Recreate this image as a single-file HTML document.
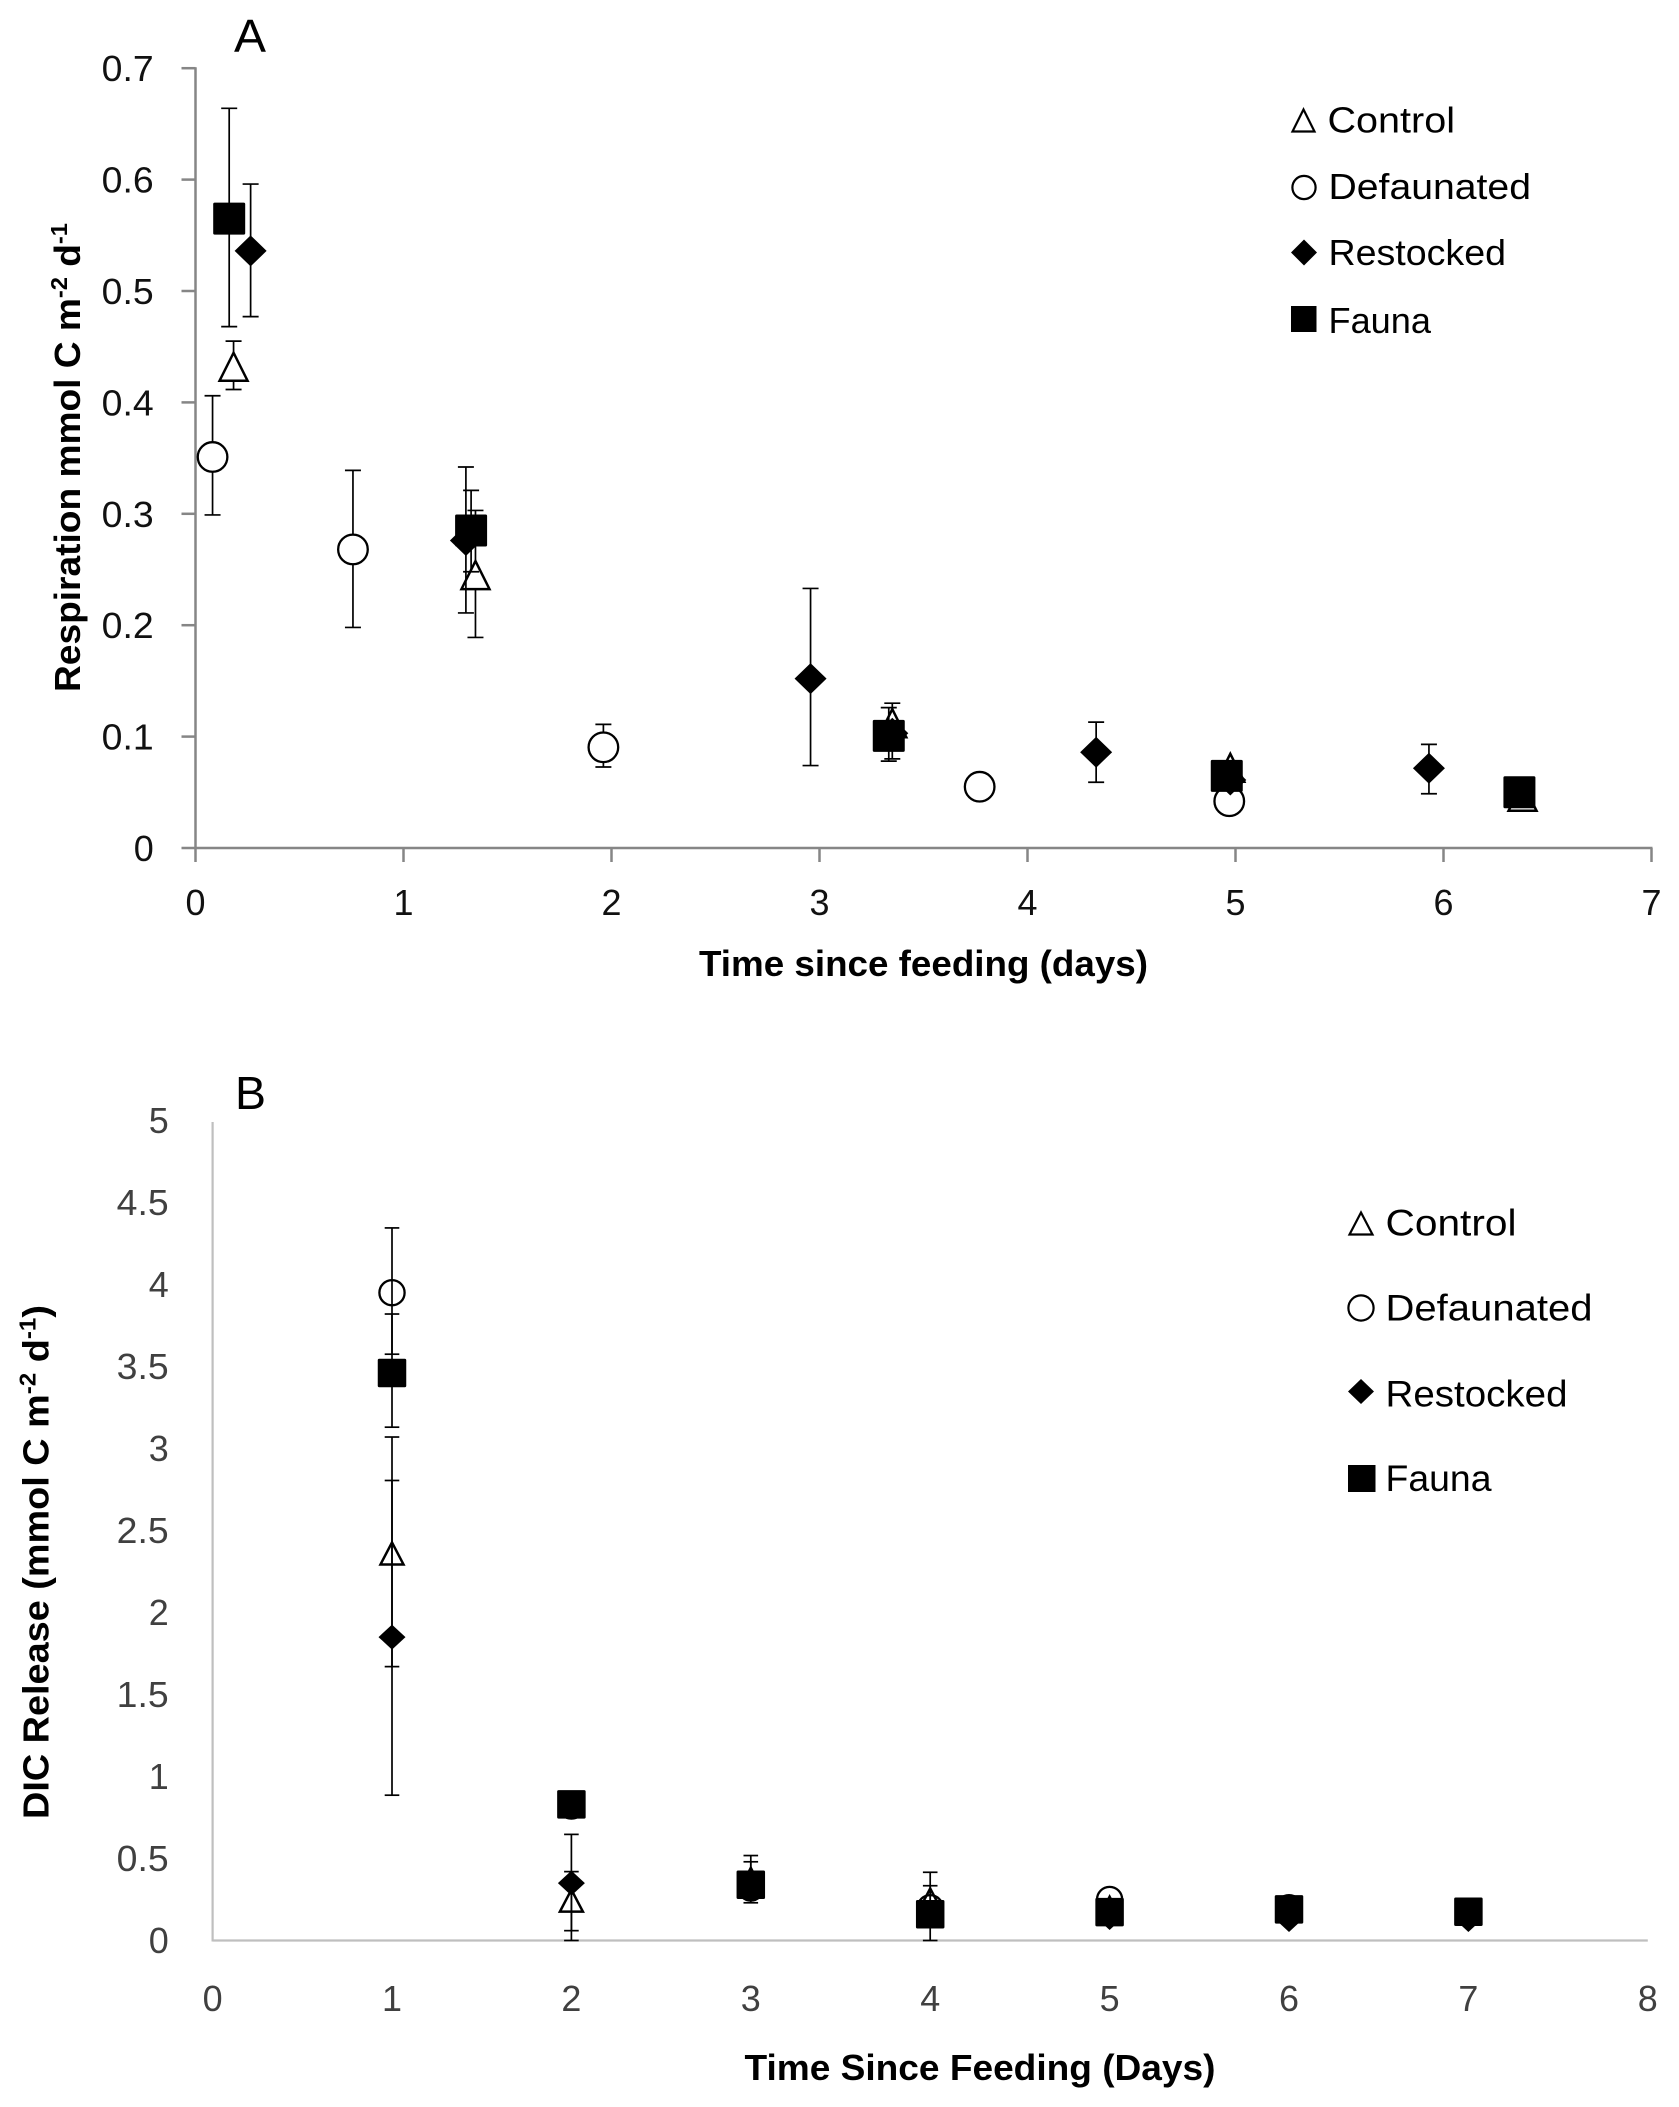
<!DOCTYPE html>
<html lang="en">
<head>
<meta charset="utf-8">
<title>Respiration and DIC release since feeding</title>
<style>
html,body{margin:0;padding:0;background:#fff;}
svg{display:block;}
text{font-family:"Liberation Sans",sans-serif;}
</style>
</head>
<body>
<svg id="figure" xmlns="http://www.w3.org/2000/svg" width="1679" height="2107" viewBox="0 0 1679 2107">
  <rect width="1679" height="2107" fill="#fff"/>

  <g id="panelA">
    <text x="234" y="52" font-size="46" textLength="32" lengthAdjust="spacingAndGlyphs" fill="#000">A</text>
    <g id="axesA"></g>
    <g id="marksA"></g>
    <text x="699" y="976" font-size="36" font-weight="bold" textLength="449" lengthAdjust="spacingAndGlyphs" fill="#000">Time since feeding (days)</text>
    <text transform="translate(80 692) rotate(-90)" font-size="36" font-weight="bold" textLength="469" lengthAdjust="spacingAndGlyphs" fill="#000">Respiration mmol C m<tspan font-size="23" dy="-13">-2</tspan><tspan dy="13"> d</tspan><tspan font-size="23" dy="-13">-1</tspan></text>
    <g>
      <g>
        <polygon points="1303.5,109.5 1292.5,131.5 1314.5,131.5" fill="#fff" stroke="#000" stroke-width="2.2"/>
        <text x="1327.5" y="132.5" font-size="36" textLength="127.5" lengthAdjust="spacingAndGlyphs" fill="#000">Control</text>
      </g>
      <g>
        <circle cx="1304" cy="187.5" r="11.6" fill="#fff" stroke="#000" stroke-width="2.2"/>
        <text x="1328.5" y="199" font-size="36" textLength="202.5" lengthAdjust="spacingAndGlyphs" fill="#000">Defaunated</text>
      </g>
      <g>
        <polygon points="1304,239.5 1317,252.5 1304,265.5 1291,252.5" fill="#000"/>
        <text x="1328.5" y="265" font-size="36" textLength="177.5" lengthAdjust="spacingAndGlyphs" fill="#000">Restocked</text>
      </g>
      <g>
        <rect x="1291" y="306" width="25.5" height="26" fill="#000"/>
        <text x="1328.5" y="333" font-size="36" textLength="102.5" lengthAdjust="spacingAndGlyphs" fill="#000">Fauna</text>
      </g>
    </g>
  </g>

  <g id="panelB">
    <text x="235" y="1109" font-size="46" textLength="31" lengthAdjust="spacingAndGlyphs" fill="#000">B</text>
    <g id="axesB"></g>
    <g id="marksB"></g>
    <text x="744.5" y="2080" font-size="36" font-weight="bold" textLength="471" lengthAdjust="spacingAndGlyphs" fill="#000">Time Since Feeding (Days)</text>
    <text transform="translate(48.5 1819) rotate(-90)" font-size="36" font-weight="bold" textLength="514" lengthAdjust="spacingAndGlyphs" fill="#000">DIC Release (mmol C m<tspan font-size="23" dy="-13">-2</tspan><tspan dy="13"> d</tspan><tspan font-size="23" dy="-13">-1</tspan><tspan dy="13">)</tspan></text>
    <g>
      <g>
        <polygon points="1361,1212.5 1349.5,1234.5 1372.5,1234.5" fill="#fff" stroke="#000" stroke-width="2.2"/>
        <text x="1385.5" y="1235.5" font-size="37" textLength="131" lengthAdjust="spacingAndGlyphs" fill="#000">Control</text>
      </g>
      <g>
        <circle cx="1361" cy="1308" r="12.6" fill="#fff" stroke="#000" stroke-width="2.2"/>
        <text x="1385.5" y="1320.5" font-size="37" textLength="207" lengthAdjust="spacingAndGlyphs" fill="#000">Defaunated</text>
      </g>
      <g>
        <polygon points="1361,1379 1374,1391.5 1361,1404 1348,1391.5" fill="#000"/>
        <text x="1385.5" y="1406.5" font-size="37" textLength="182" lengthAdjust="spacingAndGlyphs" fill="#000">Restocked</text>
      </g>
      <g>
        <rect x="1348" y="1465" width="27.5" height="27" fill="#000"/>
        <text x="1385.5" y="1491" font-size="37" textLength="106" lengthAdjust="spacingAndGlyphs" fill="#000">Fauna</text>
      </g>
    </g>
  </g>
</svg>

<script>
/* Panel A tick labels */
const aXTicks = ["0","1","2","3","4","5","6","7"];
const aYTicks = ["0","0.1","0.2","0.3","0.4","0.5","0.6","0.7"];

/* Panel A: Control */
const aControlX = [0.183,1.346,3.35,4.975,6.38];
const aControlY = [0.432,0.245,0.112,0.072,0.046];
const aControlHigh = [0.455,0.303,0.13,null,null];
const aControlLow = [0.4116,0.189,0.08,null,null];

/* Panel A: Defaunated */
const aDefaunatedX = [0.082,0.757,1.961,3.77,4.97];
const aDefaunatedY = [0.351,0.268,0.0904,0.055,0.042];
const aDefaunatedHigh = [0.406,0.339,0.111,null,null];
const aDefaunatedLow = [0.299,0.198,0.0727,null,null];

/* Panel A: Restocked */
const aRestockedX = [0.265,1.30,2.957,3.35,4.33,4.975,5.93];
const aRestockedY = [0.536,0.276,0.152,0.103,0.086,0.061,0.0716];
const aRestockedHigh = [0.596,0.342,0.233,null,0.113,null,0.093];
const aRestockedLow = [0.477,0.211,0.074,null,0.059,null,0.0487];

/* Panel A: Fauna */
const aFaunaX = [0.162,1.325,3.333,4.958,6.365];
const aFaunaY = [0.565,0.285,0.1007,0.0647,0.05];
const aFaunaHigh = [0.664,0.321,0.126,null,null];
const aFaunaLow = [0.468,0.248,0.078,null,null];

/* Panel B tick labels */
const bXTicks = ["0","1","2","3","4","5","6","7","8"];
const bYTicks = ["0","0.5","1","1.5","2","2.5","3","3.5","4","4.5","5"];

/* Panel B: shared sampling days */
const bDays = [1,2,3,4,5,6,7];

/* Panel B: Control */
const bControlY = [2.36,0.243,0.376,0.25,0.2,0.19,0.17];
const bControlHigh = [3.07,0.42,0.48,0.416,null,null,null];
const bControlLow = [1.67,0,0.27,0.08,null,null,null];

/* Panel B: Defaunated */
const bDefaunatedY = [3.95,0.82,0.32,0.2,0.25,0.2,0.17];
const bDefaunatedHigh = [4.345,null,null,null,null,null,null];
const bDefaunatedLow = [3.575,null,null,null,null,null,null];

/* Panel B: Restocked */
const bRestockedY = [1.85,0.35,0.31,0.17,0.14,0.128,0.128];
const bRestockedHigh = [2.805,0.647,0.518,null,null,null,null];
const bRestockedLow = [0.886,0.06,0.23,null,null,null,null];

/* Panel B: Fauna */
const bFaunaY = [3.46,0.83,0.34,0.16,0.173,0.19,0.175];
const bFaunaHigh = [3.82,null,null,0.334,null,null,null];
const bFaunaLow = [3.13,null,null,0,null,null,null];

const NS = "http://www.w3.org/2000/svg";

function xA(v){ return 195.5 + 208 * v; }
function yA(v){ return 848 - 1114 * v; }
function xB(v){ return 212.6 + 179.4 * v; }
function yB(v){ return 1940.5 - 164 * v; }

function make(tag, attrs, parent){
  const el = document.createElementNS(NS, tag);
  for (const k in attrs) el.setAttribute(k, attrs[k]);
  parent.appendChild(el);
  return el;
}

function labelWidth(s){
  return s.length === 1 ? 20 : 52;
}

function drawAxisLine(parent, name, x1, y1, x2, y2, color, width){
  const el = make("line", {x1:x1, y1:y1, x2:x2, y2:y2, stroke:color, "stroke-width":width}, parent);
  
  
}

function drawTickLabel(parent, name, str, x, y, anchor, color){
  const el = make("text", {x:x, y:y, "text-anchor":anchor, "font-size":36, fill:color, textLength:labelWidth(str), lengthAdjust:"spacingAndGlyphs"}, parent);
  el.textContent = str;
  
  
}

function drawBar(parent, name, x, hi, lo, cap){
  const g = make("g", {stroke:"#000", "stroke-width":1.7, fill:"none"}, parent);
  
  
  make("line", {x1:x, y1:hi, x2:x, y2:lo}, g);
  make("line", {x1:x-cap, y1:hi, x2:x+cap, y2:hi}, g);
  make("line", {x1:x-cap, y1:lo, x2:x+cap, y2:lo}, g);
}

function drawMarker(parent, name, kind, cx, cy, dims){
  let el;
  if (kind === "triangle") {
    const pts = (cx) + "," + (cy - dims.triH/2) + " " + (cx - dims.triW/2) + "," + (cy + dims.triH/2) + " " + (cx + dims.triW/2) + "," + (cy + dims.triH/2);
    el = make("polygon", {points:pts, fill:dims.openFill, stroke:"#000", "stroke-width":2.5}, parent);
  } else if (kind === "circle") {
    el = make("circle", {cx:cx, cy:cy, r:dims.r, fill:dims.openFill, stroke:"#000", "stroke-width":2.3}, parent);
  } else if (kind === "diamond") {
    const pts = cx + "," + (cy - dims.dh) + " " + (cx + dims.dw) + "," + cy + " " + cx + "," + (cy + dims.dh) + " " + (cx - dims.dw) + "," + cy;
    el = make("polygon", {points:pts, fill:"#000"}, parent);
  } else {
    el = make("rect", {x:cx - dims.sq/2, y:cy - dims.sq/2, width:dims.sq, height:dims.sq, rx:1.5, fill:"#000"}, parent);
  }
  
  
}

function drawSeries(parent, key, kind, xs, ys, hi, lo, xf, yf, dims){
  const g = make("g", {}, parent);
  
  
  for (let i = 0; i < xs.length; i++) {
    if (hi[i] !== null && lo[i] !== null) {
      drawBar(g, 'error-bar-' + key, xf(xs[i]), yf(hi[i]), yf(lo[i]), dims.cap);
    }
    drawMarker(g, 'point-' + key, kind, xf(xs[i]), yf(ys[i]), dims);
  }
}

/* Panel A */
const axesA = document.getElementById("axesA");
const marksA = document.getElementById("marksA");
const colorA = "#868686";
drawAxisLine(axesA, "panel-a-y-axis", xA(0), yA(0.7) - 1, xA(0), yA(0) + 14, colorA, 2.5);
drawAxisLine(axesA, "panel-a-x-axis", xA(0) - 14, yA(0), xA(7) + 1, yA(0), colorA, 2.5);
aYTicks.forEach(function(t){
  const v = Number(t);
  if (v > 0) drawAxisLine(axesA, "panel-a-y-tick", xA(0) - 14, yA(v), xA(0), yA(v), colorA, 2.5);
  drawTickLabel(axesA, "panel-a-y-tick-label", t, 153.7, yA(v) + 13, "end", "#111");
});
aXTicks.forEach(function(t){
  const v = Number(t);
  if (v > 0) drawAxisLine(axesA, "panel-a-x-tick", xA(v), yA(0), xA(v), yA(0) + 14, colorA, 2.5);
  drawTickLabel(axesA, "panel-a-x-tick-label", t, xA(v), 915, "middle", "#111");
});
const dimsA = {triW:28, triH:28, r:14.8, dw:16, dh:15.5, sq:32, cap:8, openFill:"#fff"};
drawSeries(marksA, "control", "triangle", aControlX, aControlY, aControlHigh, aControlLow, xA, yA, dimsA);
drawSeries(marksA, "defaunated", "circle", aDefaunatedX, aDefaunatedY, aDefaunatedHigh, aDefaunatedLow, xA, yA, dimsA);
drawSeries(marksA, "restocked", "diamond", aRestockedX, aRestockedY, aRestockedHigh, aRestockedLow, xA, yA, dimsA);
drawSeries(marksA, "fauna", "square", aFaunaX, aFaunaY, aFaunaHigh, aFaunaLow, xA, yA, dimsA);

/* Panel B */
const axesB = document.getElementById("axesB");
const marksB = document.getElementById("marksB");
const colorB = "#bfbfbf";
drawAxisLine(axesB, "panel-b-y-axis", xB(0), 1122, xB(0), yB(0) + 1, colorB, 2.2);
drawAxisLine(axesB, "panel-b-x-axis", xB(0), yB(0), xB(8), yB(0), colorB, 2.2);
bYTicks.forEach(function(t){
  const v = Number(t);
  drawTickLabel(axesB, "panel-b-y-tick-label", t, 168.7, yB(v) + 12.5, "end", "#404040");
});
bXTicks.forEach(function(t){
  const v = Number(t);
  drawTickLabel(axesB, "panel-b-x-tick-label", t, xB(v), 2011, "middle", "#404040");
});
const dimsB = {triW:23, triH:22, r:12.6, dw:13.5, dh:12.5, sq:28.5, cap:7.3, openFill:"none"};
drawSeries(marksB, "control", "triangle", bDays, bControlY, bControlHigh, bControlLow, xB, yB, dimsB);
drawSeries(marksB, "defaunated", "circle", bDays, bDefaunatedY, bDefaunatedHigh, bDefaunatedLow, xB, yB, dimsB);
drawSeries(marksB, "restocked", "diamond", bDays, bRestockedY, bRestockedHigh, bRestockedLow, xB, yB, dimsB);
drawSeries(marksB, "fauna", "square", bDays, bFaunaY, bFaunaHigh, bFaunaLow, xB, yB, dimsB);
</script>
</body>
</html>
